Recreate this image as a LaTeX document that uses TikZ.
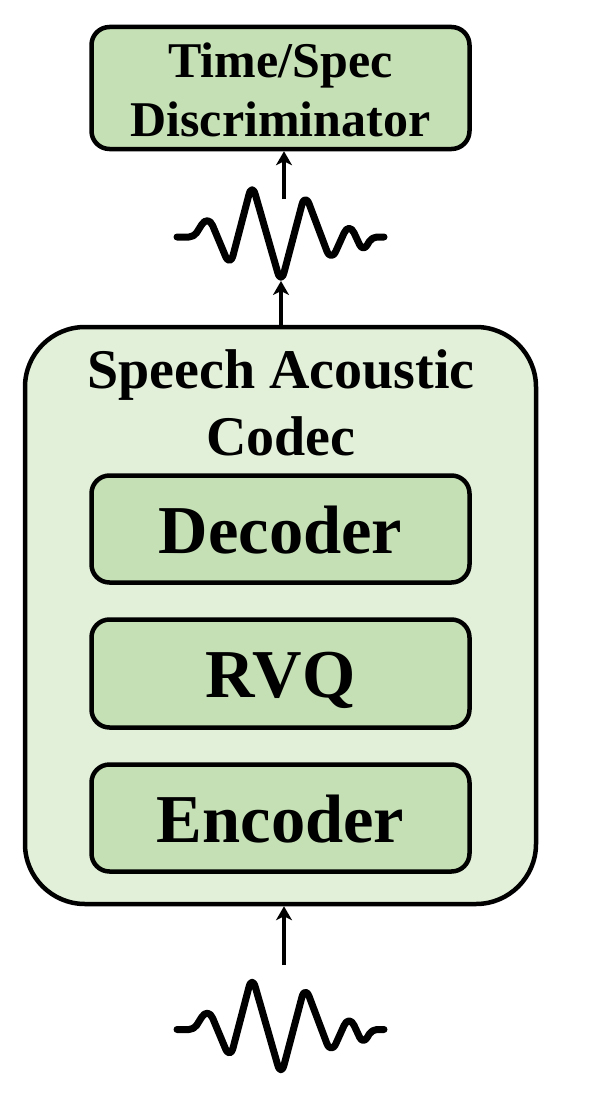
\documentclass[tikz,border=0pt]{standalone}
\usepackage{fontspec}
\setmainfont{Liberation Serif}
\usetikzlibrary{arrows.meta}
\definecolor{boxdark}{HTML}{C5E0B4}
\definecolor{boxlight}{HTML}{E2F0D9}
\tikzset{
  boxstyle/.style={draw=black,line width=4.5pt,fill=boxdark,rounded corners=18pt,minimum width=378pt,inner sep=0pt,align=center,font=\bfseries},
  blocktext/.style={text height=48pt,text depth=0pt},
  outerbox/.style={draw=black,line width=4.5pt,fill=boxlight,rounded corners=60pt,minimum width=511pt,minimum height=577pt,inner sep=0pt},
  flow/.style={draw=black,line width=4pt,-{Stealth[length=14pt,width=16pt,inset=4pt]}},
  wave/.style={draw=black,line width=7pt,line cap=round,line join=round},
  sized/.style={font=\bfseries\fontsize{#1}{#1}\selectfont}
}
\newcommand{\wavepath}[1]{%
  \begin{scope}[shift={(0,#1)}]
    \draw[wave] (177,237) [rounded corners=5pt] -- (194,237) [rounded corners=12pt] -- (208,214.5) -- (230,267) -- (252,183) -- (281,284) -- (305,193) -- (331,262) -- (349,222) [rounded corners=8pt] -- (363,252) [rounded corners=5pt] -- (372,237) -- (384,237);
  \end{scope}}
\begin{document}
\begin{tikzpicture}[x=1pt,y=-1pt]
\useasboundingbox (0,0) rectangle (598,1116);
\node[outerbox] (codec) at (280.5,615.5) {};
\node[boxstyle,minimum height=122pt] (disc) at (280.5,88) {};
\node[sized=50,align=center,anchor=center] (disctext) at (280.5,90) {Time/Spec\\[9pt]Discriminator};
\node[sized=56,align=center] (codectext) at (281,403) {Speech Acoustic\\[11pt]Codec};
\node[boxstyle,blocktext,minimum height=107pt,sized=68.5] (dec) at (280.5,529) {Decoder};
\node[boxstyle,blocktext,minimum height=108pt,sized=68.5] (rvq) at (280.5,673.5) {RVQ};
\node[boxstyle,blocktext,minimum height=107pt,sized=68.5] (enc) at (280.5,818) {Encoder};
\wavepath{0}
\wavepath{792.5}
\coordinate (wtop) at (284,199);
\coordinate (wmid) at (281,281);
\coordinate (wbot) at (284,965);
\draw[flow] (wtop) -- (wtop |- disc.south);
\draw[flow] (codec.north -| wmid) -- (wmid);
\draw[flow] (wbot) -- (wbot |- codec.south);
\end{tikzpicture}
\end{document}
